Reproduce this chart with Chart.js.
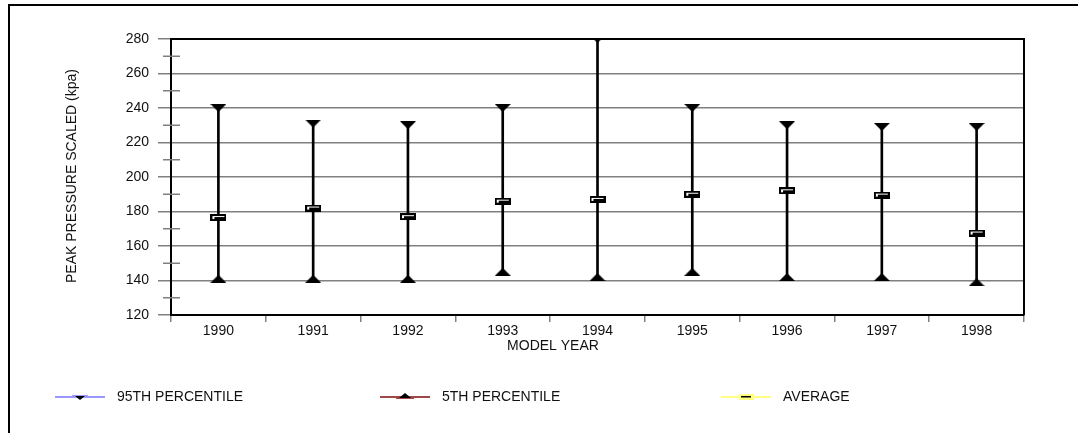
<!DOCTYPE html>
<html>
<head>
<meta charset="utf-8">
<script src="https://cdn.jsdelivr.net/npm/chart.js@4.4.0/dist/chart.umd.min.js"></script>
<style>
  html, body { margin: 0; padding: 0; background: #fff; }
  #wrap { width: 1078px; height: 433px; position: relative; }
</style>
</head>
<body>
<div id="wrap"><canvas id="myChart" width="1078" height="433"></canvas></div>
<script>
const years = ['1990', '1991', '1992', '1993', '1994', '1995', '1996', '1997', '1998'];
const p95 = [240, 231, 230, 240, 280, 240, 230, 229, 229];
const p5 = [141, 141, 141, 145, 142, 145, 142, 142, 139];
const average = [176.5, 182, 177, 186, 187, 190, 192, 189.5, 167.5];
const yTicks = [120, 140, 160, 180, 200, 220, 240, 260, 280];

const FONT = '"Liberation Sans", Arial, sans-serif';

function makeMarker(w, h, draw) {
  const c = document.createElement('canvas');
  c.width = w; c.height = h;
  draw(c.getContext('2d'));
  return c;
}

const triDown = makeMarker(16, 8, function (g) {
  g.fillStyle = '#000';
  g.beginPath(); g.moveTo(0, 0); g.lineTo(16, 0); g.lineTo(8, 8); g.closePath(); g.fill();
});
const triUp = makeMarker(16, 8, function (g) {
  g.fillStyle = '#000';
  g.beginPath(); g.moveTo(0, 8); g.lineTo(16, 8); g.lineTo(8, 0); g.closePath(); g.fill();
});
const avgBox = makeMarker(16, 7, function (g) {
  g.fillStyle = '#000'; g.fillRect(0, 0, 16, 7);
  g.fillStyle = '#fff'; g.fillRect(2, 2, 12, 3);
  g.fillStyle = '#000'; g.fillRect(4, 3, 10, 2);
});

// frame, minor ticks, axis titles and legend
const extras = {
  id: 'extras',
  beforeDatasetsDraw(chart) {
    const ctx = chart.ctx, a = chart.chartArea, y = chart.scales.y;
    ctx.save();
    ctx.strokeStyle = '#808080';
    ctx.lineWidth = 1.5;
    for (let v = 130; v < 280; v += 20) {
      const py = y.getPixelForValue(v);
      ctx.beginPath(); ctx.moveTo(a.left - 8, py); ctx.lineTo(a.left + 9, py); ctx.stroke();
    }
    ctx.strokeStyle = '#000';
    ctx.lineWidth = 2;
    ctx.beginPath();
    ctx.moveTo(a.left, a.top); ctx.lineTo(a.right, a.top); ctx.lineTo(a.right, a.bottom);
    ctx.stroke();
    ctx.restore();
  },
  afterDraw(chart) {
    const ctx = chart.ctx;
    ctx.save();
    ctx.fillStyle = '#000';
    ctx.fillRect(8, 4, 1070, 2);
    ctx.fillRect(8, 4, 2, 429);

    ctx.font = '14px ' + FONT;
    ctx.fillStyle = '#111';
    ctx.textAlign = 'center';
    ctx.textBaseline = 'middle';
    ctx.fillText('MODEL YEAR', 553, 346);
    ctx.save();
    ctx.translate(72, 176);
    ctx.rotate(-Math.PI / 2);
    ctx.fillText('PEAK PRESSURE SCALED (kpa)', 0, 0);
    ctx.restore();

    // legend
    const ly = 397;
    const items = [
      { x: 55, color: '#9999ff', kind: 'down', ds: 1 },
      { x: 380, color: '#a04848', kind: 'up', ds: 2 },
      { x: 721, color: '#ffff80', kind: 'box', ds: 3 }
    ];
    items.forEach(function (it) {
      ctx.fillStyle = it.color;
      ctx.fillRect(it.x, ly - 1, 50, 2);
      const cx = it.x + 25;
      if (it.kind === 'down') {
        ctx.fillRect(cx - 8, ly - 2, 16, 3);
        ctx.fillStyle = '#000';
        ctx.beginPath(); ctx.moveTo(cx - 5, ly - 1); ctx.lineTo(cx + 5, ly - 1); ctx.lineTo(cx, ly + 3); ctx.closePath(); ctx.fill();
      } else if (it.kind === 'up') {
        ctx.fillRect(cx - 9, ly - 1, 18, 3);
        ctx.fillStyle = '#000';
        ctx.beginPath(); ctx.moveTo(cx - 6, ly + 1); ctx.lineTo(cx + 6, ly + 1); ctx.lineTo(cx, ly - 4); ctx.closePath(); ctx.fill();
      } else {
        ctx.fillRect(cx - 7, ly - 3, 15, 6);
        ctx.fillStyle = '#000';
        ctx.fillRect(cx - 5, ly - 1, 10, 1.5);
      }
      ctx.fillStyle = '#111';
      ctx.textAlign = 'left';
      ctx.fillText(chart.data.datasets[it.ds].label, it.x + 62, ly);
    });
    ctx.restore();
  }
};

new Chart(document.getElementById('myChart'), {
  type: 'bar',
  data: {
    labels: years,
    datasets: [
      {
        label: 'range',
        data: years.map(function (y, i) { return [p5[i], p95[i]]; }),
        backgroundColor: '#000',
        borderWidth: 0,
        barThickness: 2,
        order: 4
      },
      {
        type: 'line', label: '95TH PERCENTILE', data: p95, showLine: false,
        pointStyle: triDown, pointRadius: 8, pointHoverRadius: 8, order: 1
      },
      {
        type: 'line', label: '5TH PERCENTILE', data: p5, showLine: false,
        pointStyle: triUp, pointRadius: 8, pointHoverRadius: 8, order: 2
      },
      {
        type: 'line', label: 'AVERAGE', data: average, showLine: false,
        pointStyle: avgBox, pointRadius: 8, pointHoverRadius: 8, order: 3
      }
    ]
  },
  options: {
    responsive: false,
    animation: false,
    events: [],
    layout: { padding: { left: 0, top: 39, right: 54, bottom: 0 } },
    plugins: { legend: { display: false }, tooltip: { enabled: false } },
    scales: {
      x: {
        offset: true,
        afterFit: function (s) { s.height = 118; },
        grid: { offset: true, drawOnChartArea: false, color: '#808080', lineWidth: 1.5, tickLength: 7 },
        border: { color: '#000', width: 2 },
        ticks: { color: '#111', font: { family: FONT, size: 14 }, padding: 1, maxRotation: 0 }
      },
      y: {
        min: 120, max: 280,
        afterFit: function (s) { s.width = 171; },
        afterBuildTicks: function (s) { s.ticks = yTicks.map(function (v) { return { value: v }; }); },
        grid: {
          color: function (c) { return (c.tick && (c.tick.value === 120 || c.tick.value === 280)) ? 'rgba(0,0,0,0)' : '#808080'; },
          tickColor: '#808080',
          lineWidth: 1.5,
          tickLength: 13
        },
        border: { color: '#000', width: 2 },
        ticks: { color: '#111', font: { family: FONT, size: 14 }, padding: 9 }
      }
    }
  },
  plugins: [extras]
});
</script>
</body>
</html>
